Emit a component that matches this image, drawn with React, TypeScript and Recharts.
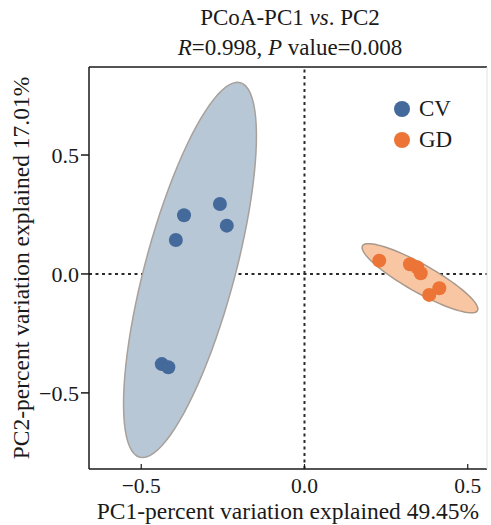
import {
  ScatterChart,
  Scatter,
  XAxis,
  YAxis,
  ReferenceLine,
  Legend,
} from "recharts";

const FONT = '"Liberation Serif", "Times New Roman", serif';
const INK = "#1a1a1a";

// sample scores
const cvX = [-0.369, -0.259, -0.238, -0.394, -0.437, -0.417];
const cvY = [0.247, 0.294, 0.203, 0.143, -0.379, -0.392];
const gdX = [0.229, 0.323, 0.345, 0.356, 0.413, 0.382];
const gdY = [0.056, 0.041, 0.028, 0.003, -0.06, -0.088];

// confidence ellipses: centre, major half-axis vector, minor half-axis vector (data units)
const cvEllipse = [-0.3507, 0.0168, 0.1539, 0.7874, 0.1332, -0.049];
const gdEllipse = [0.3537, -0.0181, 0.1761, -0.1361, -0.021, -0.0512];

const groups = ["CV", "GD"];
const groupColors = ["#44699b", "#ec7436"];
const ellipseFills = ["#b7c7d5", "#f8c6a3"];

const xDomain = [-0.66, 0.559];
const yDomain = [-0.82, 0.87];
const ticks = [-0.5, 0, 0.5];

const toPoints = (xs: number[], ys: number[]) =>
  xs.map((x, i) => ({ x, y: ys[i] }));

const ellipsePath = (e: number[]) => {
  const [cx, cy, ux, uy, vx, vy] = e;
  const pts = [];
  for (let i = 0; i < 90; i++) {
    const t = (i / 90) * Math.PI * 2;
    pts.push({
      x: cx + ux * Math.cos(t) + vx * Math.sin(t),
      y: cy + uy * Math.cos(t) + vy * Math.sin(t),
    });
  }
  return pts;
};

const fmt = (v: number) => (v < 0 ? "\u2212" + Math.abs(v).toFixed(1) : v.toFixed(1));

const Dot = (props: any) => (
  <circle cx={props.cx} cy={props.cy} r={7} fill={props.fill} />
);

const XTick = (props: any) => {
  const { x, y, payload } = props;
  return (
    <g>
      <line x1={x} x2={x} y1={y} y2={y - 5} stroke={INK} strokeWidth={1.2} />
      <text x={x} y={y + 24} textAnchor="middle" fontSize={21.5} fontFamily={FONT} fill={INK}>
        {fmt(payload.value)}
      </text>
    </g>
  );
};

const TitleLabel = (props: any) => {
  const vb = props.viewBox;
  const cx = vb.x + vb.width / 2 + 2;
  const base = vb.y + vb.height;
  return (
    <text textAnchor="middle" fontSize={23} fontFamily={FONT} fill={INK}>
      <tspan x={cx} y={base - 42}>
        PCoA-PC1 <tspan fontStyle="italic">vs</tspan>. PC2
      </tspan>
      <tspan x={cx} y={base - 12}>
        <tspan fontStyle="italic">R</tspan>=0.998, <tspan fontStyle="italic">P</tspan> value=0.008
      </tspan>
    </text>
  );
};

const YLabel = (props: any) => {
  const vb = props.viewBox;
  const x = vb.x;
  const y = vb.y + vb.height / 2;
  return (
    <text
      x={x}
      y={y}
      textAnchor="middle"
      fontSize={23.5}
      fontFamily={FONT}
      fill={INK}
      transform={`rotate(-90, ${x}, ${y})`}
    >
      PC2-percent variation explained 17.01%
    </text>
  );
};

const LegendBox = () => (
  <div style={{ fontFamily: FONT, fontSize: 23, color: INK }}>
    {groups.map((g, i) => (
      <div key={g} style={{ display: "flex", alignItems: "center", height: 31 }}>
        <span
          style={{
            width: 16,
            height: 16,
            borderRadius: 8,
            background: groupColors[i],
            marginRight: 9,
          }}
        />
        {g}
      </div>
    ))}
  </div>
);

export default function App() {
  const cv = toPoints(cvX, cvY);
  const gd = toPoints(gdX, gdY);
  return (
    <div style={{ position: "absolute", left: 0, top: 0 }}>
      <ScatterChart
        width={491}
        height={525}
        margin={{ top: 37, right: 3, bottom: 0, left: 29 }}
      >
        <XAxis
          type="number"
          dataKey="x"
          domain={xDomain}
          ticks={ticks}
          allowDataOverflow
          height={56}
          stroke={INK}
          strokeWidth={1.5}
          tickLine={false}
          tickSize={0}
          tickMargin={0}
          tick={<XTick />}
          label={{
            value: "PC1-percent variation explained 49.45%",
            position: "insideBottom",
            offset: 6,
            fontSize: 23.5,
            fontFamily: FONT,
            fill: INK,
          }}
        />
        <XAxis
          xAxisId="top"
          orientation="top"
          type="number"
          domain={xDomain}
          allowDataOverflow
          height={30}
          stroke={INK}
          strokeWidth={1.5}
          tick={false}
          tickLine={false}
          label={{ content: TitleLabel }}
        />
        <YAxis
          type="number"
          dataKey="y"
          domain={yDomain}
          ticks={ticks}
          allowDataOverflow
          width={60}
          stroke={INK}
          strokeWidth={1.5}
          tickSize={8}
          tickMargin={2}
          tickFormatter={fmt}
          tick={{ fontSize: 22, fontFamily: FONT, fill: INK }}
          label={{ content: YLabel }}
        />
        <YAxis
          yAxisId="right"
          orientation="right"
          type="number"
          domain={yDomain}
          allowDataOverflow
          width={1}
          stroke="#e2e2e2"
          strokeWidth={1}
          tick={false}
          tickLine={false}
        />
        <Scatter
          name="CV ellipse"
          data={ellipsePath(cvEllipse)}
          fill={ellipseFills[0]}
          line={{ fill: ellipseFills[0], stroke: "#a8a09a", strokeWidth: 1.5 }}
          lineJointType="linearClosed"
          shape={() => <g />}
          legendType="none"
          isAnimationActive={false}
        />
        <Scatter
          name="GD ellipse"
          data={ellipsePath(gdEllipse)}
          fill={ellipseFills[1]}
          line={{ fill: ellipseFills[1], stroke: "#a8998c", strokeWidth: 1.5 }}
          lineJointType="linearClosed"
          shape={() => <g />}
          legendType="none"
          isAnimationActive={false}
        />
        <ReferenceLine x={0} stroke="#2a2a2a" strokeWidth={2} strokeDasharray="3 3.5" />
        <ReferenceLine y={0} stroke="#2a2a2a" strokeWidth={2} strokeDasharray="3 3.5" />
        <Scatter
          name={groups[0]}
          data={cv}
          fill={groupColors[0]}
          shape={<Dot />}
          isAnimationActive={false}
        />
        <Scatter
          name={groups[1]}
          data={gd}
          fill={groupColors[1]}
          shape={<Dot />}
          isAnimationActive={false}
        />
        <Legend
          layout="vertical"
          align="center"
          verticalAlign="middle"
          content={<LegendBox />}
          wrapperStyle={{ position: "absolute", left: 394, top: 93, width: "auto" }}
        />
      </ScatterChart>
    </div>
  );
}
